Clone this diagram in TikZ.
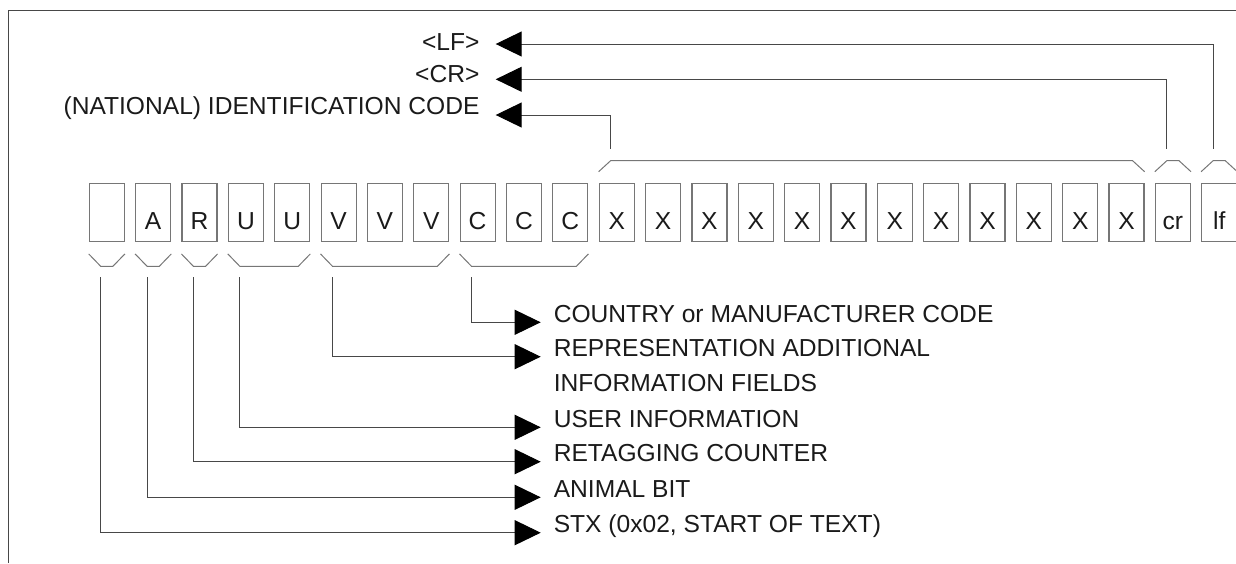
\documentclass[tikz,border=0pt]{standalone}
\usepackage{fontspec}
\setmainfont{Liberation Sans}
\usepackage{tikz}
\usepackage{xcolor}
\usetikzlibrary{arrows.meta}
\definecolor{FontColor}{HTML}{1A1A1A}
\definecolor{LineGray}{HTML}{474747}
\definecolor{BoxGray}{HTML}{767676}
\newcommand\labstx{STX (0x02, START OF TEXT)}
\newcommand\labanimal{ANIMAL BIT}
\newcommand\labretag{RETAGGING COUNTER}
\newcommand\labuser{USER INFORMATION}
\newcommand\labrepr{REPRESENTATION ADDITIONAL\\INFORMATION FIELDS}
\newcommand\labcountry{COUNTRY or MANUFACTURER CODE}
\newcommand\labid{(NATIONAL) IDENTIFICATION CODE}
\newcommand\labcr{<CR>}
\newcommand\lablf{<LF>}
\tikzstyle{mytextstyle} = [text=FontColor, font=\fontsize{24.6}{35}\selectfont]
\tikzstyle{cell} = [mytextstyle, rectangle, draw=BoxGray, line width=1.2pt, minimum width=35pt, minimum height=58.4pt, inner sep=0pt, text height=34pt, text depth=0pt]
\tikzstyle{rlab} = [mytextstyle, anchor=base west, inner xsep=12.6pt, inner ysep=0pt, align=left]
\tikzstyle{llab} = [mytextstyle, anchor=base east, inner xsep=15.7pt, inner ysep=0pt]
\tikzstyle{brace} = [draw=BoxGray, line width=1pt]
\tikzstyle{conn} = [draw=LineGray, line width=1pt]
\tikzset{>={Triangle[length=26pt,width=25pt,color=black]}, every picture/.style={line width=1pt}}

\begin{document}
\begin{tikzpicture}[x=1pt, y=-1pt]
\useasboundingbox (0,0) rectangle (1236,563);
\draw[conn] (8.3,563) -- (8.3,10) -- (1236,10);
% the 25 characters of the record
\node[cell] (c0) at (106.8,212.5) {};
\node[cell] (c1) at (153.2,212.5) {A};
\node[cell] (c2) at (199.5,212.5) {R};
\node[cell] (c3) at (245.9,212.5) {U};
\node[cell] (c4) at (292.2,212.5) {U};
\node[cell] (c5) at (338.6,212.5) {V};
\node[cell] (c6) at (384.9,212.5) {V};
\node[cell] (c7) at (431.3,212.5) {V};
\node[cell] (c8) at (477.6,212.5) {C};
\node[cell] (c9) at (524.0,212.5) {C};
\node[cell] (c10) at (570.3,212.5) {C};
\node[cell] (c11) at (616.7,212.5) {X};
\node[cell] (c12) at (663.0,212.5) {X};
\node[cell] (c13) at (709.4,212.5) {X};
\node[cell] (c14) at (755.7,212.5) {X};
\node[cell] (c15) at (802.1,212.5) {X};
\node[cell] (c16) at (848.4,212.5) {X};
\node[cell] (c17) at (894.8,212.5) {X};
\node[cell] (c18) at (941.1,212.5) {X};
\node[cell] (c19) at (987.5,212.5) {X};
\node[cell] (c20) at (1033.8,212.5) {X};
\node[cell] (c21) at (1080.2,212.5) {X};
\node[cell] (c22) at (1126.5,212.5) {X};
\node[cell] (c23) at (1172.9,212.5) {cr};
\node[cell] (c24) at (1219.2,212.5) {lf};
% labels
\node[llab] (llf) at (495.7,50) {\lablf};
\node[llab] (lcr) at (495.7,82.5) {\labcr};
\node[llab] (lid) at (495.7,114) {\labid};
\node[rlab] (lcountry) at (540.7,322.3) {\labcountry};
\node[rlab] (lrepr) at (540.7,391.7) {\labrepr};
\node[rlab] (luser) at (540.7,427.3) {\labuser};
\node[rlab] (lretag) at (540.7,461.7) {\labretag};
\node[rlab] (lanimal) at (540.7,497.3) {\labanimal};
\node[rlab] (lstx) at (540.7,532.7) {\labstx};
% brackets under the fields
\draw[brace] ([yshift=-11.6pt]c0.south west) -- ++(12,12.4) -- ([shift={(-12pt,-24pt)}]c0.south east) -- ++(12,-12.4);
\draw[brace] ([yshift=-11.6pt]c1.south west) -- ++(12,12.4) -- ([shift={(-12pt,-24pt)}]c1.south east) -- ++(12,-12.4);
\draw[brace] ([yshift=-11.6pt]c2.south west) -- ++(12,12.4) -- ([shift={(-12pt,-24pt)}]c2.south east) -- ++(12,-12.4);
\draw[brace] ([yshift=-11.6pt]c3.south west) -- ++(12,12.4) -- ([shift={(-12pt,-24pt)}]c4.south east) -- ++(12,-12.4);
\draw[brace] ([yshift=-11.6pt]c5.south west) -- ++(12,12.4) -- ([shift={(-12pt,-24pt)}]c7.south east) -- ++(12,-12.4);
\draw[brace] ([yshift=-11.6pt]c8.south west) -- ++(12,12.4) -- ([shift={(-12pt,-24pt)}]c10.south east) -- ++(12,-12.4);
% brackets over the fields
\draw[brace] ([yshift=11pt]c11.north west) -- ++(12,-11) -- ([shift={(-12pt,22pt)}]c22.north east) -- ++(12,11);
\draw[brace] ([yshift=11pt]c23.north west) -- ++(12,-11) -- ([shift={(-12pt,22pt)}]c23.north east) -- ++(12,11);
\draw[brace] ([yshift=11pt]c24.north west) -- ++(12,-11) -- ([shift={(-12pt,22pt)}]c24.north east) -- ++(12,11);
\coordinate (cstx) at ([shift={(12pt,-35pt)}]c0.south west);
\coordinate (canimal) at ([shift={(12pt,-35pt)}]c1.south west);
\coordinate (cretag) at ([shift={(12pt,-35pt)}]c2.south west);
\coordinate (cuser) at ([shift={(12pt,-35pt)}]c3.south west);
\coordinate (crepr) at ([shift={(12pt,-35pt)}]c5.south west);
\coordinate (ccountry) at ([shift={(12pt,-35pt)}]c8.south west);
\coordinate (cid) at ([shift={(12pt,34pt)}]c11.north west);
\coordinate (ccr) at ([shift={(12pt,34pt)}]c23.north west);
\coordinate (clf) at ([shift={(12pt,34pt)}]c24.north west);
\draw[conn,->] (cstx) |- (lstx.base west);
\draw[conn,->] (canimal) |- (lanimal.base west);
\draw[conn,->] (cretag) |- (lretag.base west);
\draw[conn,->] (cuser) |- (luser.base west);
\draw[conn,->] (crepr) |- ([yshift=35pt]lrepr.base west);
\draw[conn,->] (ccountry) |- (lcountry.base west);
\draw[conn,->] (cid) |- ([yshift=-1pt]lid.base east);
\draw[conn,->] (ccr) |- ([yshift=3.2pt]lcr.base east);
\draw[conn,->] (clf) |- ([yshift=6pt]llf.base east);
\end{tikzpicture}
\end{document}
